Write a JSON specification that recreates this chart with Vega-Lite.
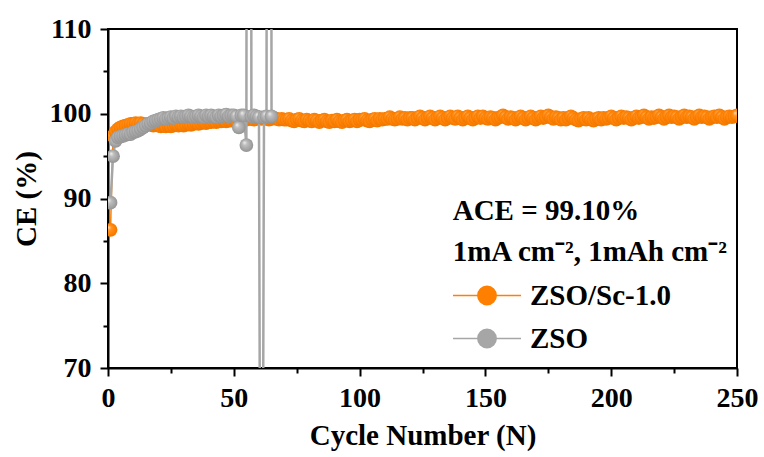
{
  "$schema": "https://vega.github.io/schema/vega-lite/v6.json",
  "width": 629,
  "height": 339,
  "autosize": {"type": "none"},
  "padding": {"left": 108, "top": 29, "right": 27, "bottom": 89},
  "background": "white",
  "config": {
    "view": {"stroke": "black", "strokeWidth": 2},
    "font": "Liberation Serif",
    "axis": {
      "domainColor": "black", "domainWidth": 2, "tickColor": "black", "tickWidth": 2,
      "labelFont": "Liberation Serif", "labelFontSize": 28, "labelFontWeight": "bold", "labelColor": "black",
      "titleFont": "Liberation Serif", "titleFontSize": 29, "titleFontWeight": "bold", "titleColor": "black",
      "grid": false
    }
  },
  "datasets": {
    "sc": [
      {"c":1,"v":86.3},{"c":2,"v":97.4},{"c":3,"v":97.9},{"c":4,"v":98.2},{"c":5,"v":98.4},{"c":6,"v":98.5},{"c":7,"v":98.6},{"c":8,"v":98.7},{"c":9,"v":98.8},{"c":10,"v":98.8},
      {"c":11,"v":98.9},{"c":12,"v":98.8},{"c":13,"v":98.9},{"c":14,"v":98.8},{"c":15,"v":98.7},{"c":16,"v":98.8},{"c":17,"v":98.7},{"c":18,"v":98.6},{"c":19,"v":98.7},{"c":20,"v":98.6},
      {"c":21,"v":98.5},{"c":22,"v":98.6},{"c":23,"v":98.5},{"c":24,"v":98.6},{"c":25,"v":98.5},{"c":26,"v":98.6},{"c":27,"v":98.7},{"c":28,"v":98.6},{"c":29,"v":98.7},{"c":30,"v":98.6},
      {"c":31,"v":98.7},{"c":32,"v":98.8},{"c":33,"v":98.7},{"c":34,"v":98.8},{"c":35,"v":98.9},{"c":36,"v":98.8},{"c":37,"v":98.9},{"c":38,"v":99.0},{"c":39,"v":98.9},{"c":40,"v":99.0},
      {"c":41,"v":99.0},{"c":42,"v":99.1},{"c":43,"v":99.0},{"c":44,"v":99.1},{"c":45,"v":99.1},{"c":46,"v":99.2},{"c":47,"v":99.1},{"c":48,"v":99.2},{"c":49,"v":99.2},{"c":50,"v":99.3},
      {"c":51,"v":99.2},{"c":52,"v":99.3},{"c":53,"v":99.3},{"c":54,"v":99.4},{"c":55,"v":99.3},{"c":56,"v":99.4},{"c":57,"v":99.4},{"c":58,"v":99.3},{"c":59,"v":99.4},{"c":60,"v":99.5},
      {"c":61,"v":99.4},{"c":62,"v":99.5},{"c":63,"v":99.4},{"c":64,"v":99.3},{"c":65,"v":99.4},{"c":66,"v":99.5},{"c":67,"v":99.4},{"c":68,"v":99.3},{"c":69,"v":99.4},{"c":70,"v":99.3},
      {"c":71,"v":99.3},{"c":72,"v":99.4},{"c":73,"v":99.2},{"c":74,"v":99.1},{"c":75,"v":99.3},{"c":76,"v":99.4},{"c":77,"v":99.2},{"c":78,"v":99.1},{"c":79,"v":99.3},{"c":80,"v":99.2},
      {"c":81,"v":99.1},{"c":82,"v":99.3},{"c":83,"v":99.2},{"c":84,"v":99.0},{"c":85,"v":99.2},{"c":86,"v":99.3},{"c":87,"v":99.1},{"c":88,"v":99.0},{"c":89,"v":99.2},{"c":90,"v":99.1},
      {"c":91,"v":99.3},{"c":92,"v":99.1},{"c":93,"v":99.0},{"c":94,"v":99.2},{"c":95,"v":99.3},{"c":96,"v":99.1},{"c":97,"v":99.2},{"c":98,"v":99.3},{"c":99,"v":99.1},{"c":100,"v":99.3},
      {"c":101,"v":99.3},{"c":102,"v":99.4},{"c":103,"v":99.2},{"c":104,"v":99.1},{"c":105,"v":99.3},{"c":106,"v":99.4},{"c":107,"v":99.2},{"c":108,"v":99.4},{"c":109,"v":99.3},{"c":110,"v":99.4},
      {"c":111,"v":99.4},{"c":112,"v":99.6},{"c":113,"v":99.4},{"c":114,"v":99.3},{"c":115,"v":99.4},{"c":116,"v":99.6},{"c":117,"v":99.4},{"c":118,"v":99.5},{"c":119,"v":99.3},{"c":120,"v":99.5},
      {"c":121,"v":99.5},{"c":122,"v":99.3},{"c":123,"v":99.5},{"c":124,"v":99.7},{"c":125,"v":99.5},{"c":126,"v":99.3},{"c":127,"v":99.5},{"c":128,"v":99.7},{"c":129,"v":99.5},{"c":130,"v":99.3},
      {"c":131,"v":99.5},{"c":132,"v":99.7},{"c":133,"v":99.5},{"c":134,"v":99.3},{"c":135,"v":99.5},{"c":136,"v":99.7},{"c":137,"v":99.5},{"c":138,"v":99.4},{"c":139,"v":99.7},{"c":140,"v":99.5},
      {"c":141,"v":99.3},{"c":142,"v":99.5},{"c":143,"v":99.7},{"c":144,"v":99.5},{"c":145,"v":99.3},{"c":146,"v":99.5},{"c":147,"v":99.7},{"c":148,"v":99.5},{"c":149,"v":99.7},{"c":150,"v":99.5},
      {"c":151,"v":99.4},{"c":152,"v":99.6},{"c":153,"v":99.5},{"c":154,"v":99.3},{"c":155,"v":99.5},{"c":156,"v":99.6},{"c":157,"v":99.8},{"c":158,"v":99.6},{"c":159,"v":99.4},{"c":160,"v":99.6},
      {"c":161,"v":99.5},{"c":162,"v":99.3},{"c":163,"v":99.5},{"c":164,"v":99.7},{"c":165,"v":99.5},{"c":166,"v":99.3},{"c":167,"v":99.5},{"c":168,"v":99.7},{"c":169,"v":99.5},{"c":170,"v":99.3},
      {"c":171,"v":99.5},{"c":172,"v":99.7},{"c":173,"v":99.5},{"c":174,"v":99.6},{"c":175,"v":99.8},{"c":176,"v":99.6},{"c":177,"v":99.4},{"c":178,"v":99.6},{"c":179,"v":99.5},{"c":180,"v":99.3},
      {"c":181,"v":99.5},{"c":182,"v":99.3},{"c":183,"v":99.5},{"c":184,"v":99.7},{"c":185,"v":99.5},{"c":186,"v":99.3},{"c":187,"v":99.2},{"c":188,"v":99.4},{"c":189,"v":99.5},{"c":190,"v":99.3},
      {"c":191,"v":99.5},{"c":192,"v":99.3},{"c":193,"v":99.2},{"c":194,"v":99.4},{"c":195,"v":99.5},{"c":196,"v":99.3},{"c":197,"v":99.5},{"c":198,"v":99.4},{"c":199,"v":99.5},{"c":200,"v":99.7},
      {"c":201,"v":99.5},{"c":202,"v":99.3},{"c":203,"v":99.5},{"c":204,"v":99.7},{"c":205,"v":99.5},{"c":206,"v":99.6},{"c":207,"v":99.5},{"c":208,"v":99.3},{"c":209,"v":99.5},{"c":210,"v":99.7},
      {"c":211,"v":99.5},{"c":212,"v":99.6},{"c":213,"v":99.8},{"c":214,"v":99.6},{"c":215,"v":99.4},{"c":216,"v":99.6},{"c":217,"v":99.5},{"c":218,"v":99.6},{"c":219,"v":99.8},{"c":220,"v":99.6},
      {"c":221,"v":99.4},{"c":222,"v":99.6},{"c":223,"v":99.8},{"c":224,"v":99.6},{"c":225,"v":99.7},{"c":226,"v":99.6},{"c":227,"v":99.4},{"c":228,"v":99.6},{"c":229,"v":99.8},{"c":230,"v":99.6},
      {"c":231,"v":99.7},{"c":232,"v":99.6},{"c":233,"v":99.4},{"c":234,"v":99.6},{"c":235,"v":99.8},{"c":236,"v":99.6},{"c":237,"v":99.7},{"c":238,"v":99.6},{"c":239,"v":99.4},{"c":240,"v":99.6},
      {"c":241,"v":99.7},{"c":242,"v":99.6},{"c":243,"v":99.8},{"c":244,"v":99.6},{"c":245,"v":99.4},{"c":246,"v":99.6},{"c":247,"v":99.7},{"c":248,"v":99.6},{"c":249,"v":99.7},{"c":250,"v":99.8}
    ],
    "zso": [
      {"c":1,"v":89.5},{"c":2,"v":95.0},{"c":3,"v":96.8},{"c":4,"v":97.2},{"c":5,"v":97.3},{"c":6,"v":97.4},{"c":7,"v":97.5},{"c":8,"v":97.6},{"c":9,"v":97.6},{"c":10,"v":97.8},
      {"c":11,"v":97.9},{"c":12,"v":98.0},{"c":13,"v":98.2},{"c":14,"v":98.4},{"c":15,"v":98.6},{"c":16,"v":98.8},{"c":17,"v":98.9},{"c":18,"v":99.1},{"c":19,"v":99.2},{"c":20,"v":99.3},
      {"c":21,"v":99.4},{"c":22,"v":99.5},{"c":23,"v":99.4},{"c":24,"v":99.5},{"c":25,"v":99.6},{"c":26,"v":99.5},{"c":27,"v":99.7},{"c":28,"v":99.6},{"c":29,"v":99.7},{"c":30,"v":99.6},
      {"c":31,"v":99.7},{"c":32,"v":99.8},{"c":33,"v":99.7},{"c":34,"v":99.6},{"c":35,"v":99.7},{"c":36,"v":99.8},{"c":37,"v":99.7},{"c":38,"v":99.6},{"c":39,"v":99.8},{"c":40,"v":99.7},
      {"c":41,"v":99.8},{"c":42,"v":99.7},{"c":43,"v":99.6},{"c":44,"v":99.8},{"c":45,"v":99.7},{"c":46,"v":99.8},{"c":47,"v":99.9},{"c":48,"v":99.7},{"c":49,"v":99.8},{"c":50,"v":99.8},
      {"c":51,"v":99.7},{"c":52,"v":98.4},{"c":53,"v":99.8},{"c":54,"v":99.8},{"c":55,"v":96.3},{"c":56,"v":400},{"c":57,"v":99.7},{"c":58,"v":99.8},{"c":59,"v":99.7},{"c":60,"v":99.6},
      {"c":61,"v":0},{"c":62,"v":99.6},{"c":63,"v":99.7},{"c":64,"v":400},{"c":65,"v":99.7}
    ],
    "notes": [
      {"c":137,"v":87.46,"t":"ACE = 99.10%"},
      {"c":137,"v":82.66,"t":"1mA cm⁻², 1mAh cm⁻²"}
    ]
  },
  "encoding": {
    "x": {
      "field": "c", "type": "quantitative",
      "scale": {"domain": [0, 250], "nice": false},
      "axis": {
        "title": "Cycle Number (N)",
        "values": [0, 25, 50, 75, 100, 125, 150, 175, 200, 225, 250],
        "labelExpr": "datum.value % 50 === 0 ? datum.label : ''",
        "tickSize": {"condition": {"test": "datum.value % 50 === 0", "value": 8}, "value": 5},
        "labelPadding": 8,
        "titlePadding": 9,
        "labelFlush": false,
        "labelOverlap": false
      }
    },
    "y": {
      "field": "v", "type": "quantitative",
      "scale": {"domain": [70, 110], "nice": false, "zero": false},
      "axis": {
        "title": "CE (%)",
        "values": [70, 75, 80, 85, 90, 95, 100, 105, 110],
        "labelExpr": "datum.value % 10 === 0 ? datum.label : ''",
        "tickSize": {"condition": {"test": "datum.value % 10 === 0", "value": 8}, "value": 5},
        "labelPadding": 9,
        "titlePadding": 8,
        "labelFlush": false,
        "labelOverlap": false
      }
    }
  },
  "layer": [
    {
      "data": {"name": "sc"},
      "mark": {"type": "line", "strokeWidth": 1.5, "clip": true},
      "encoding": {
        "color": {
          "datum": "ZSO/Sc-1.0", "type": "nominal",
          "scale": {"domain": ["ZSO/Sc-1.0", "ZSO"], "range": ["#FF8000", "#A6A6A6"]},
          "legend": {
            "orient": "none", "legendX": 344, "legendY": 246, "title": null,
            "symbolType": "M-1,0L-0.27,0M0.27,0L1,0M-0.27,0A0.27,0.27 0 1,1 0.27,0A0.27,0.27 0 1,1 -0.27,0Z",
            "symbolSize": 4624, "symbolStrokeWidth": 1.5, "symbolOpacity": 1,
            "labelFont": "Liberation Serif", "labelFontSize": 29, "labelFontWeight": "bold", "labelColor": "black",
            "labelOffset": 8, "rowPadding": 2, "clipHeight": 41, "padding": 0,
            "encode": {"symbols": {"update": {"stroke": {"scale": "color", "field": "value"}, "fill": {"scale": "color", "field": "value"}}}}
          }
        }
      }
    },
    {
      "data": {"name": "sc"},
      "mark": {
        "type": "point", "filled": true, "size": 190, "opacity": 1, "clip": true, "strokeWidth": 0,
        "fill": {"gradient": "radial", "x1": 0.35, "y1": 0.3, "r1": 0, "x2": 0.5, "y2": 0.5, "r2": 0.55,
                 "stops": [{"offset": 0, "color": "#FFE2C2"}, {"offset": 0.3, "color": "#FF9426"}, {"offset": 0.7, "color": "#FF8000"}, {"offset": 1, "color": "#E87400"}]}
      },
      "encoding": {}
    },
    {
      "data": {"name": "zso"},
      "mark": {"type": "line", "strokeWidth": 2.5, "clip": true},
      "encoding": {
        "color": {
          "datum": "ZSO", "type": "nominal",
          "scale": {"domain": ["ZSO/Sc-1.0", "ZSO"], "range": ["#FF8000", "#A6A6A6"]},
          "legend": {
            "orient": "none", "legendX": 344, "legendY": 246, "title": null,
            "symbolType": "M-1,0L-0.27,0M0.27,0L1,0M-0.27,0A0.27,0.27 0 1,1 0.27,0A0.27,0.27 0 1,1 -0.27,0Z",
            "symbolSize": 4624, "symbolStrokeWidth": 1.5, "symbolOpacity": 1,
            "labelFont": "Liberation Serif", "labelFontSize": 29, "labelFontWeight": "bold", "labelColor": "black",
            "labelOffset": 8, "rowPadding": 2, "clipHeight": 41, "padding": 0,
            "encode": {"symbols": {"update": {"stroke": {"scale": "color", "field": "value"}, "fill": {"scale": "color", "field": "value"}}}}
          }
        }
      }
    },
    {
      "data": {"name": "zso"},
      "mark": {
        "type": "point", "filled": true, "size": 190, "opacity": 1, "clip": true, "strokeWidth": 0,
        "fill": {"gradient": "radial", "x1": 0.35, "y1": 0.3, "r1": 0, "x2": 0.5, "y2": 0.5, "r2": 0.55,
                 "stops": [{"offset": 0, "color": "#F4F4F4"}, {"offset": 0.3, "color": "#BEBEBE"}, {"offset": 0.7, "color": "#A4A4A4"}, {"offset": 1, "color": "#8E8E8E"}]}
      },
      "encoding": {}
    },
    {
      "data": {"name": "notes"},
      "mark": {"type": "text", "align": "left", "baseline": "alphabetic", "font": "Liberation Serif", "fontSize": 29, "fontWeight": "bold", "color": "black"},
      "encoding": {"text": {"field": "t"}}
    }
  ]
}
